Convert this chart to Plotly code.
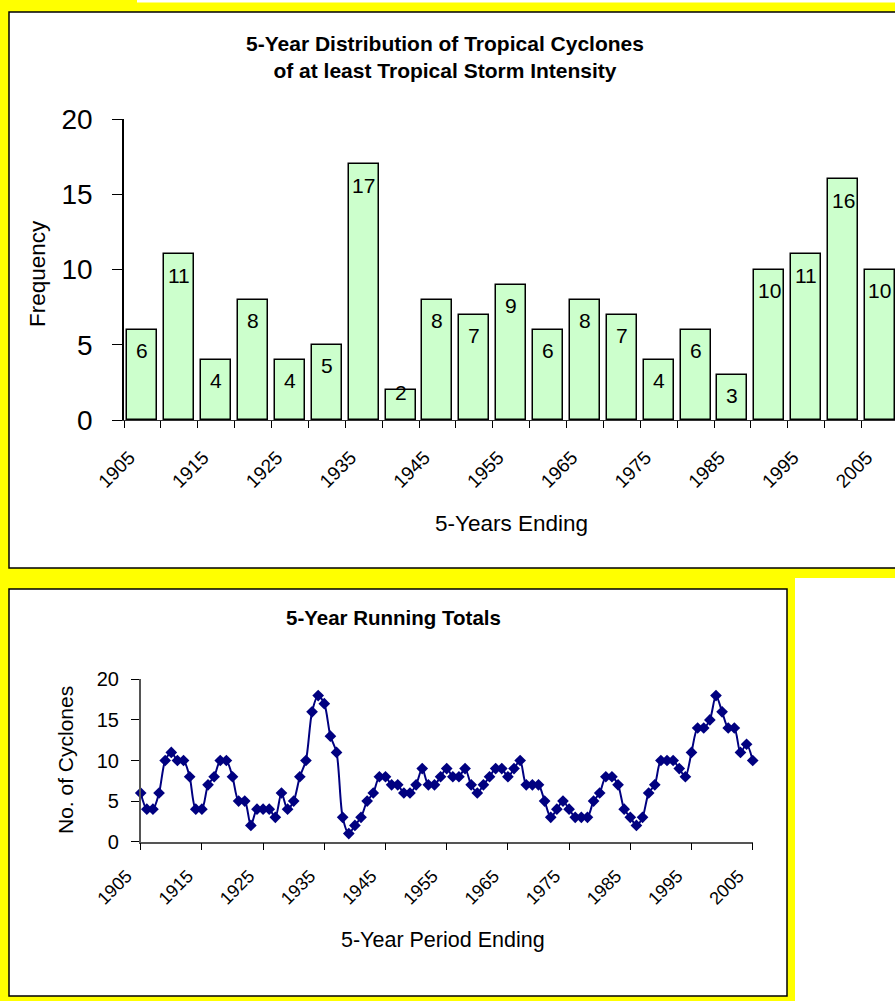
import plotly.graph_objects as go

# ---------------- data ----------------
bar_years = [1905, 1910, 1915, 1920, 1925, 1930, 1935, 1940, 1945, 1950, 1955,
             1960, 1965, 1970, 1975, 1980, 1985, 1990, 1995, 2000, 2005]
bar_values = [6, 11, 4, 8, 4, 5, 17, 2, 8, 7, 9, 6, 8, 7, 4, 6, 3, 10, 11, 16, 10]
bar_tick_years = [1905, 1915, 1925, 1935, 1945, 1955, 1965, 1975, 1985, 1995, 2005]

run_years = list(range(1905, 2006))
run_values = [6, 4, 4, 6, 10, 11, 10, 10, 8, 4,
              4, 7, 8, 10, 10, 8, 5, 5, 2, 4,
              4, 4, 3, 6, 4, 5, 8, 10, 16, 18,
              17, 13, 11, 3, 1, 2, 3, 5, 6, 8,
              8, 7, 7, 6, 6, 7, 9, 7, 7, 8,
              9, 8, 8, 9, 7, 6, 7, 8, 9, 9,
              8, 9, 10, 7, 7, 7, 5, 3, 4, 5,
              4, 3, 3, 3, 5, 6, 8, 8, 7, 4,
              3, 2, 3, 6, 7, 10, 10, 10, 9, 8,
              11, 14, 14, 15, 18, 16, 14, 14, 11, 12,
              10]
run_tick_years = [1905, 1915, 1925, 1935, 1945, 1955, 1965, 1975, 1985, 1995, 2005]

# ---------------- layout helpers ----------------
W, H = 895, 1001
FONT = "Liberation Sans, Arial, sans-serif"


def px(x):
    return x / W


def py(y):
    return 1 - y / H


YELLOW = "#FFFF00"
BAR_FILL = "#CCFFCC"
NAVY = "#000080"

fig = go.Figure()

# top chart bars
fig.add_trace(go.Bar(
    x=bar_years, y=bar_values, width=4.07,
    marker=dict(color=BAR_FILL, line=dict(color="black", width=1.5)),
    xaxis="x", yaxis="y", showlegend=False, hoverinfo="x+y",
))

# bottom chart line
fig.add_trace(go.Scatter(
    x=run_years, y=run_values, mode="lines+markers",
    line=dict(color=NAVY, width=2, shape="spline", smoothing=0.8),
    marker=dict(symbol="diamond", size=9, color=NAVY),
    cliponaxis=False, xaxis="x2", yaxis="y2", showlegend=False,
))

cat_px = 36.875  # pixels per category in top chart
x_span = (W - 124) / cat_px * 5
boundaries = [y - 2.5 for y in bar_years] + [bar_years[-1] + 2.5]

shapes = [
    dict(type="rect", xref="paper", yref="paper", x0=px(137), x1=px(900), y0=py(2.5), y1=py(-5),
         fillcolor="white", line=dict(width=0), layer="below"),
    dict(type="rect", xref="paper", yref="paper", x0=px(9), x1=px(910), y0=py(568), y1=py(12),
         fillcolor="white", line=dict(color="black", width=1.5), layer="below"),
    dict(type="rect", xref="paper", yref="paper", x0=px(795), x1=px(905), y0=py(1010), y1=py(578),
         fillcolor="white", line=dict(width=0), layer="below"),
    dict(type="rect", xref="paper", yref="paper", x0=px(9), x1=px(787), y0=py(996), y1=py(589),
         fillcolor="white", line=dict(color="black", width=1.5), layer="below"),
]

annotations = []
# bar value labels
for yr, v in zip(bar_years, bar_values):
    shift = -21 if v * 15.05 >= 40 else -3
    annotations.append(dict(x=yr, y=v, xref="x", yref="y", text=str(v), showarrow=False,
                            xanchor="center", yanchor="middle",
                            yshift=shift, font=dict(family=FONT, size=21, color="black")))


def label(x, y, text, size, angle=0):
    return dict(x=px(x), y=py(y), xref="paper", yref="paper", showarrow=False,
                xanchor="center", yanchor="middle", textangle=angle, align="center",
                text=text, font=dict(family=FONT, size=size, color="black"))


annotations += [
    label(445, 57, "<b>5-Year Distribution of Tropical Cyclones<br>of at least Tropical Storm Intensity</b>", 21),
    label(37, 274, "Frequency", 22.5),
    label(511, 523, "5-Years Ending", 22.5),
    label(393, 617, "<b>5-Year Running Totals</b>", 20.5),
    label(65, 760, "No. of Cyclones", 21, -90),
    label(443, 940, "5-Year Period Ending", 21.5),
]
annotations[-5]["textangle"] = -90

fig.update_layout(
    width=W, height=H,
    margin=dict(l=0, r=0, t=0, b=0, autoexpand=False),
    paper_bgcolor=YELLOW, plot_bgcolor="white",
    font=dict(family=FONT, color="black"),
    shapes=shapes, annotations=annotations,
    bargap=0,
    xaxis=dict(
        domain=[px(124), 1.0], range=[1902.5, 1902.5 + x_span], anchor="y",
        tickmode="array", tickvals=bar_tick_years, ticktext=[str(t) for t in bar_tick_years],
        tickangle=-45, ticks="", ticklabelstandoff=18, ticklabelshift=-13,
        tickfont=dict(family=FONT, size=19, color="black"),
        minor=dict(tickmode="array", tickvals=boundaries, ticks="outside", ticklen=7,
                   tickcolor="black", tickwidth=1, showgrid=False),
        showline=True, linecolor="#333333", linewidth=1,
        showgrid=False, zeroline=False, fixedrange=True, automargin=False,
    ),
    yaxis=dict(
        domain=[py(420), py(119)], range=[0, 20], anchor="x",
        tickmode="linear", tick0=0, dtick=5, ticks="outside", ticklen=10,
        tickcolor="black", tickwidth=1, ticklabelstandoff=14,
        tickfont=dict(family=FONT, size=28, color="black"),
        showline=True, linecolor="black", linewidth=1.5,
        showgrid=False, zeroline=False, fixedrange=True, automargin=False,
    ),
    xaxis2=dict(
        domain=[px(140.7), px(752.7)], range=[1905, 2005], anchor="y2",
        tickmode="array", tickvals=run_tick_years, ticktext=[str(t) for t in run_tick_years],
        tickangle=-45, ticks="outside", ticklen=7, tickcolor="black", tickwidth=1,
        ticklabelstandoff=8, ticklabelshift=-14,
        tickfont=dict(family=FONT, size=18, color="black"),
        showline=True, linecolor="#555555", linewidth=1.5,
        showgrid=False, zeroline=False, fixedrange=True, automargin=False,
    ),
    yaxis2=dict(
        domain=[py(841.7), py(679.3)], range=[0, 20], anchor="x2",
        tickmode="linear", tick0=0, dtick=5, ticks="outside", ticklen=8,
        tickcolor="black", tickwidth=1, ticklabelstandoff=8,
        tickfont=dict(family=FONT, size=20, color="black"),
        showline=True, linecolor="#555555", linewidth=1.5,
        showgrid=False, zeroline=False, fixedrange=True, automargin=False,
    ),
)

fig.write_html("out.html", config={"displayModeBar": False},
               post_script="document.body.style.margin='0';")
